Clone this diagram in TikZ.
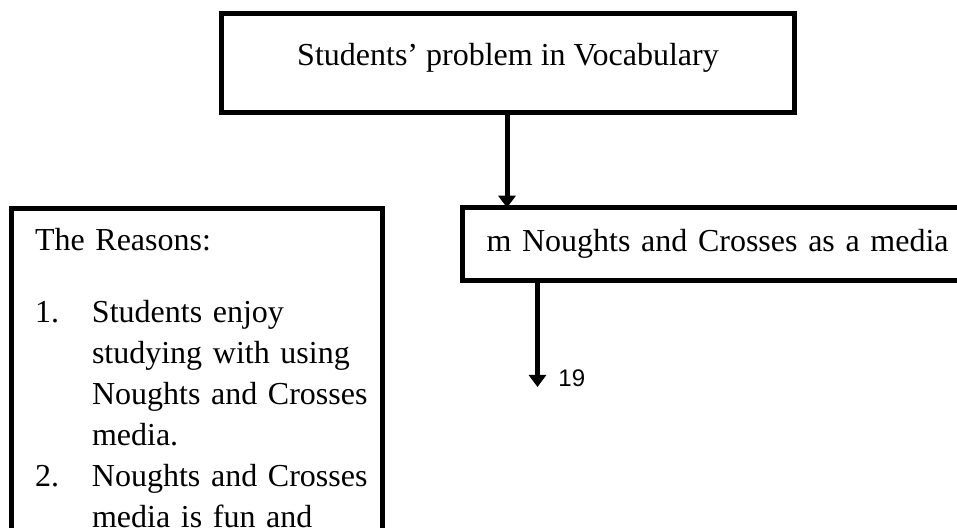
\documentclass[tikz,border=0pt]{standalone}
\usepackage{fontspec}
\setmainfont{Liberation Serif}
\newfontfamily\pagefont{Liberation Sans}
\usetikzlibrary{positioning,arrows.meta}

\begin{document}
\begin{tikzpicture}[x=0.5pt, y=-0.5pt,
  box/.style={draw, line width=2.5pt, rectangle, outer sep=0pt, font=\fontsize{16}{20.5}\selectfont},
  topbox/.style={box, minimum width=286.75pt, minimum height=49.5pt, text height=10pt, text depth=7.5pt},
  mediabox/.style={box, minimum width=258.75pt, minimum height=36.25pt, text width=234.75pt, inner xsep=12pt, align=left, text height=11pt, text depth=3pt},
  reasonbox/.style={box, minimum width=185.75pt, text width=161.75pt, inner xsep=12pt, inner ysep=9.6pt, align=left, anchor=north},
  link/.style={line width=2.5pt, -{Triangle[width=8.5pt,length=6pt]}},
  pagenum/.style={font=\pagefont\fontsize{12}{14}\selectfont, inner sep=0pt, anchor=base west},
]
\useasboundingbox (0,0) rectangle (957,528);
\clip (0,0) rectangle (957,528);

% Boxes
\node[topbox] (prob) at (508,63.5) {Students’ problem in Vocabulary};
\node[mediabox] (media) at (721.25,244) {m Noughts and Crosses as a media};
\node[reasonbox] (why) at (196.75,209) {The Reasons:\\[15.5pt]
  \makebox[28.5pt][l]{1.}Students enjoy\\
  \hspace*{28.5pt}studying with using\\
  \hspace*{28.5pt}\mbox{Noughts and Crosses}\\
  \hspace*{28.5pt}media.\\
  \makebox[28.5pt][l]{2.}\mbox{Noughts and Crosses}\\
  \hspace*{28.5pt}media is fun and};

% Arrows
\coordinate (a1) at (507,0);
\coordinate (a2) at (537.5,387);
\draw[link] (prob.south -| a1) -- (media.north -| a1);
\draw[link] (media.south -| a2) -- (a2);
\node[pagenum] (pg) at (558,387) {19};
\end{tikzpicture}
\end{document}
